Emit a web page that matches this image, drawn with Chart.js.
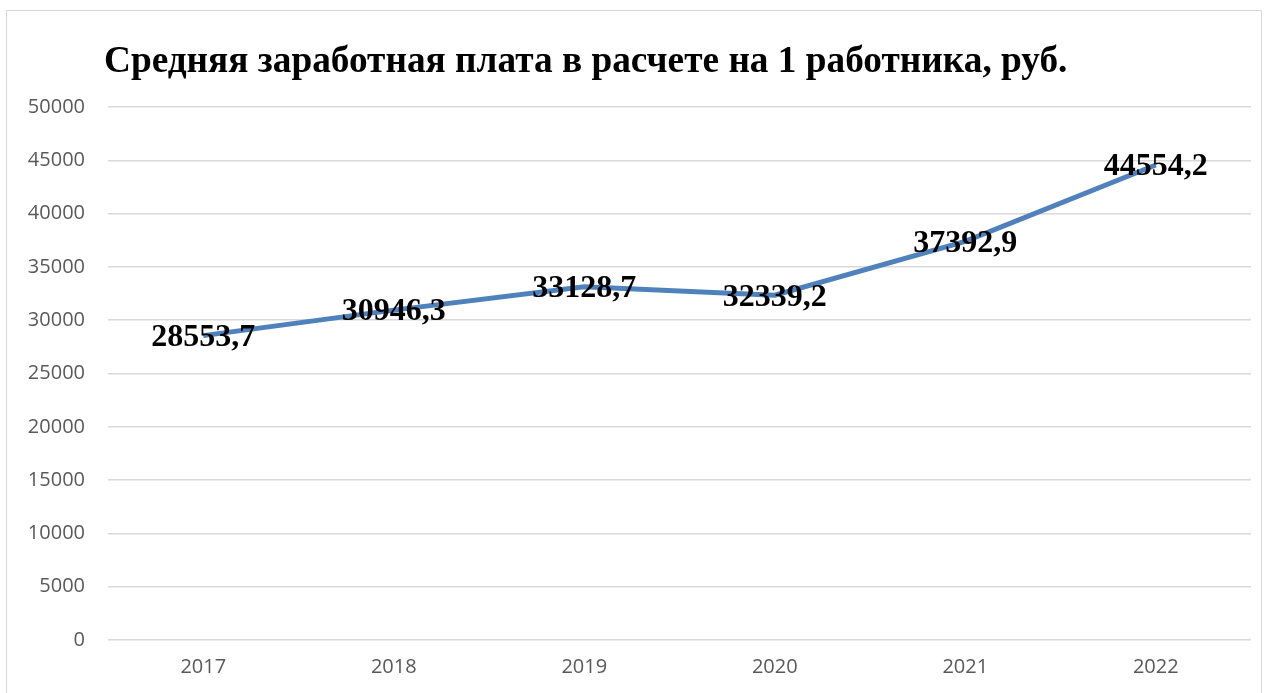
<!DOCTYPE html>
<html>
<head>
<meta charset="utf-8">
<script src="https://cdn.jsdelivr.net/npm/chart.js@4.4.0/dist/chart.umd.min.js"></script>
<style>
  html, body { margin: 0; padding: 0; background: #fff; }
  #frame {
    position: absolute; left: 6px; top: 10px;
    width: 1256px; height: 690px;
    border: 1px solid #d9d9d9; box-sizing: border-box;
  }
  #wrap { position: absolute; left: 0; top: 0; width: 1254px; height: 683px; }
</style>
</head>
<body>
<div id="frame"><div id="wrap"><canvas id="salaryChart"></canvas></div></div>
<script>
const years = ['2017', '2018', '2019', '2020', '2021', '2022'];
const salary = [28553.7, 30946.3, 33128.7, 32339.2, 37392.9, 44554.2];
const titleText = 'Средняя заработная плата в расчете на 1 работника, руб.';

// title drawn left-shifted like the original
const titlePlugin = {
  id: 'leftTitle',
  afterDraw(chart) {
    const c = chart.ctx;
    c.save();
    c.font = 'bold 37.3px "Liberation Serif", "Times New Roman", serif';
    c.fillStyle = '#000';
    c.textAlign = 'left';
    c.textBaseline = 'middle';
    c.fillText(titleText, 97, 51);
    c.restore();
  }
};

// value labels centred on each point
const valueLabels = {
  id: 'valueLabels',
  afterDatasetsDraw(chart) {
    const c = chart.ctx;
    const meta = chart.getDatasetMeta(0);
    c.save();
    c.font = 'bold 32px "Liberation Serif", "Times New Roman", serif';
    c.fillStyle = '#000';
    c.textAlign = 'center';
    c.textBaseline = 'middle';
    meta.data.forEach((pt, i) => {
      const txt = salary[i].toFixed(1).replace('.', ',');
      c.fillText(txt, pt.x, pt.y + 2);
    });
    c.restore();
  }
};

const ctx = document.getElementById('salaryChart').getContext('2d');
new Chart(ctx, {
  type: 'line',
  data: {
    labels: years,
    datasets: [{
      data: salary,
      borderColor: '#4f81bd',
      borderWidth: 5,
      pointRadius: 0,
      tension: 0,
      fill: false
    }]
  },
  options: {
    responsive: true,
    maintainAspectRatio: false,
    animation: false,
    layout: { padding: { top: 96, left: 0, right: 10, bottom: 8 } },
    plugins: {
      legend: { display: false },
      tooltip: { enabled: false },
      title: { display: false }
    },
    scales: {
      x: {
        offset: true,
        grid: { display: false },
        border: { display: false },
        ticks: { color: '#595959', font: { family: '"Open Sans", sans-serif', size: 20 }, padding: 7 }
      },
      y: {
        min: 0,
        max: 50000,
        afterFit: axis => { axis.width = 101; },
        ticks: {
          stepSize: 5000,
          color: '#595959',
          font: { family: '"Open Sans", sans-serif', size: 20 },
          padding: 23,
          callback: v => String(v)
        },
        grid: { color: '#d9d9d9', lineWidth: 1.5, drawTicks: false },
        border: { display: false }
      }
    }
  },
  plugins: [titlePlugin, valueLabels]
});
</script>
</body>
</html>
